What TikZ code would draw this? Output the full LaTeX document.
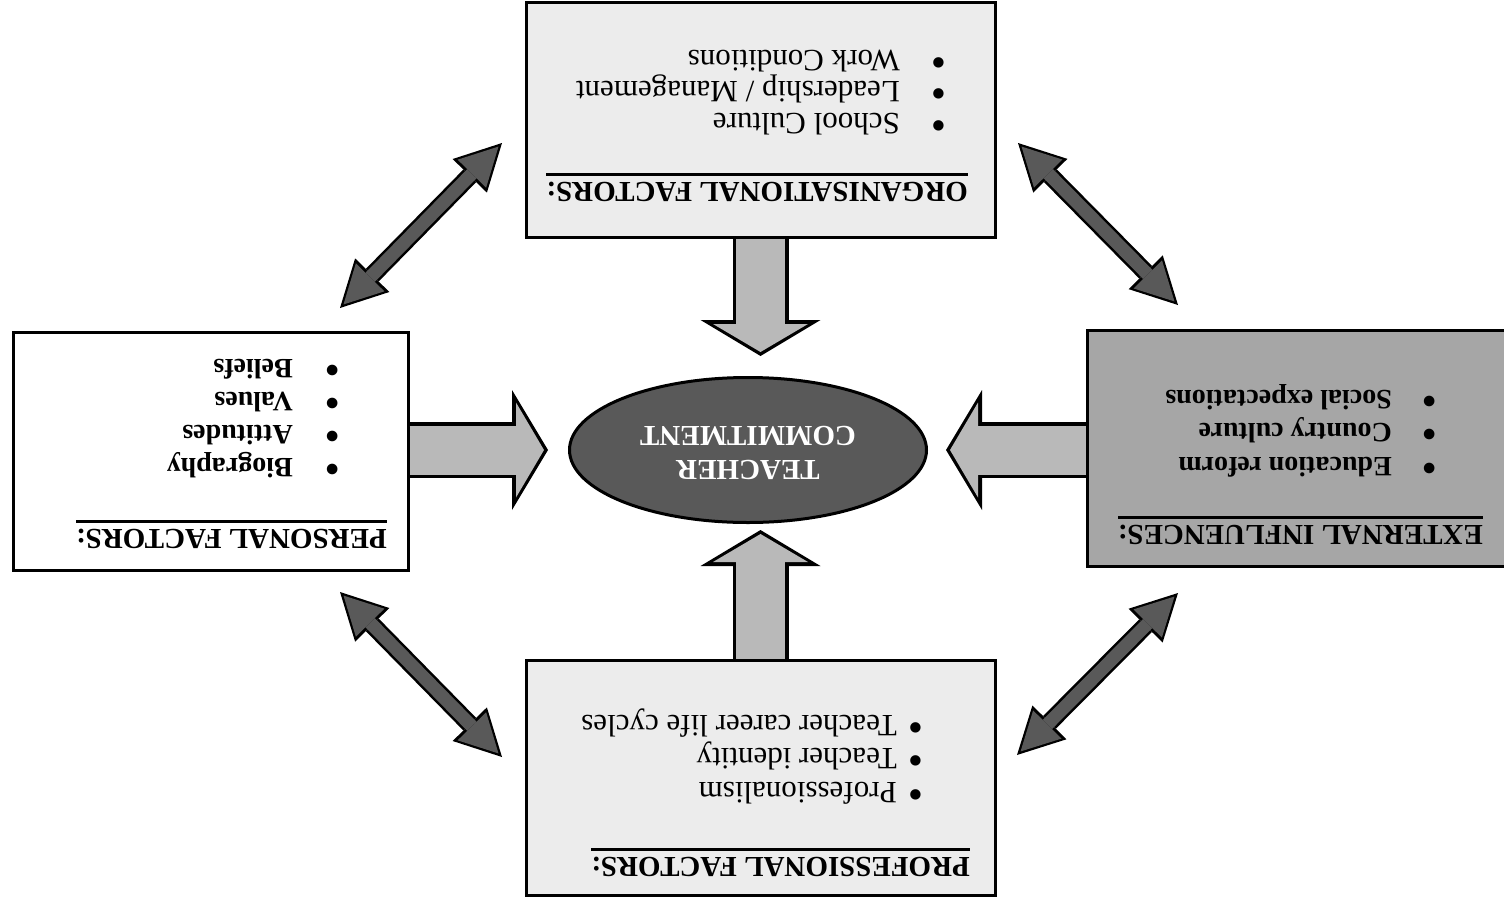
\documentclass[tikz,border=0pt]{standalone}
\usepackage{fontspec}
\setmainfont{Liberation Serif}
\usepackage{graphicx}
\usepackage{tikz}
\usetikzlibrary{arrows.meta,shapes.geometric,calc}

\newcommand\titleline[1]{\setbox0\hbox{#1}\rlap{\rule[-9pt]{\wd0}{2.5pt}}\box0}
\newcommand\itemdot[1]{\makebox[#1][l]{\raisebox{-2pt}{\scalebox{1.4}{\textbullet}}}}

\begin{document}
\begin{tikzpicture}[x=1pt, y=-1pt,
	factor/.style={draw, line width=3pt, inner sep=0pt},
	txt/.style={rotate=180, anchor=base west, inner sep=0pt, text height=20pt, text depth=5pt, font=\fontsize{28}{32}\selectfont\bfseries},
	head/.style={txt, font=\fontsize{29}{32}\selectfont\bfseries},
	plain/.style={txt, font=\fontsize{31}{32}\selectfont},
	blockout/.style={draw=black, line width=56pt, -{Triangle[length=36pt, width=120pt, line width=0pt]}},
	blockin/.style={draw=gray!55, line width=49pt, shorten >=4pt, -{Triangle[length=28pt, width=95pt, line width=0pt]}},
	twowayout/.style={draw=black, line width=18pt, {Triangle[length=46pt, width=48pt, line width=0pt]}-{Triangle[length=46pt, width=48pt, line width=0pt]}},
	twowayin/.style={draw=black!65, line width=13pt, shorten >=5pt, shorten <=5pt, {Triangle[length=38pt, width=40pt, line width=0pt]}-{Triangle[length=38pt, width=40pt, line width=0pt]}}]
	\useasboundingbox (0,0) rectangle (1504,905);

	% the four boxes and the centre
	\node[factor, fill=gray!15, minimum width=469pt, minimum height=235pt] (org) at (760.5,119.5) {};
	\node[factor, fill=white, minimum width=395pt, minimum height=238pt] (pers) at (210.5,451) {};
	\node[factor, fill=gray!70, minimum width=433pt, minimum height=236pt] (ext) at (1303.5,448) {};
	\node[factor, fill=gray!15, minimum width=469pt, minimum height=235pt] (prof) at (760.5,777.5) {};
	\node[ellipse, draw, line width=3pt, fill=black!65, text=white, minimum width=357pt, minimum height=145pt, inner sep=0pt,
		font=\fontsize{29}{34}\selectfont\bfseries] (tc) at (748,450)
		{\rotatebox{180}{\begin{tabular}{@{}c@{}}TEACHER\\COMMITMENT\end{tabular}}};

	% block arrows into the centre
	\draw[blockout] (org.south) -- ($(org.south |- tc.north)+(0,-20)$);
	\draw[blockin] (org.south) -- ($(org.south |- tc.north)+(0,-20)$);
	\draw[blockout] (prof.north) -- ($(prof.north |- tc.south)+(0,6)$);
	\draw[blockin] (prof.north) -- ($(prof.north |- tc.south)+(0,6)$);
	\draw[blockout] (pers.east |- tc.west) -- ($(tc.west)+(-20,0)$);
	\draw[blockin] (pers.east |- tc.west) -- ($(tc.west)+(-20,0)$);
	\draw[blockout] (ext.west |- tc.east) -- ($(tc.east)+(18,0)$);
	\draw[blockin] (ext.west |- tc.east) -- ($(tc.east)+(18,0)$);

	% two-way arrows between the boxes
	\coordinate (tl1) at (340,308); \coordinate (tl2) at (502,143);
	\coordinate (tr1) at (1018,143); \coordinate (tr2) at (1178,305);
	\coordinate (br1) at (1178,593); \coordinate (br2) at (1017,755);
	\coordinate (bl1) at (502,757); \coordinate (bl2) at (340,592);
	\foreach \a in {tl,tr,br,bl} {
		\draw[twowayout] (\a1) -- (\a2);
		\draw[twowayin] (\a1) -- (\a2);
	}

	% texts, printed upside down
	\node[head] (orgtitle) at (968,182) {\titleline{ORGANISATIONAL FACTORS:}};
	\foreach \t [count=\i] in {School Culture, Leadership / Management, Work Conditions}
		\node[plain] (org-\i) at (947,{144.5-31.5*\i}) {\itemdot{47pt}\t};

	\node[head] (perstitle) at (387,529) {\titleline{PERSONAL FACTORS:}};
	\foreach \t [count=\i] in {Biography, Attitudes, Values, Beliefs}
		\node[txt] (pers-\i) at (340,{490.7-32.7*\i}) {\itemdot{47pt}\t};

	\node[head] (exttitle) at (1483,525) {\titleline{EXTERNAL INFLUENCES:}};
	\foreach \t [count=\i] in {Education reform, Country culture, Social expectations}
		\node[txt] (ext-\i) at (1437,{490.5-33.5*\i}) {\itemdot{45pt}\t};

	\node[head] (proftitle) at (970,857) {\titleline{PROFESSIONAL FACTORS:}};
	\foreach \t [count=\i] in {Professionalism, Teacher identity, Teacher career life cycles}
		\node[plain] (prof-\i) at (924,{815.5-33.5*\i}) {\itemdot{27pt}\t};
\end{tikzpicture}
\end{document}
